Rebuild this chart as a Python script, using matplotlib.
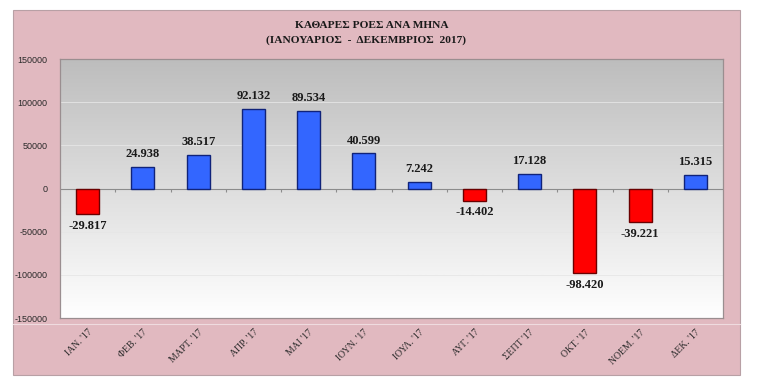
import numpy as np
import matplotlib
matplotlib.use("Agg")
import matplotlib.pyplot as plt
from matplotlib.patches import Rectangle
from matplotlib.lines import Line2D
from matplotlib.colors import LinearSegmentedColormap

months = ["ΙΑΝ. '17", "ΦΕΒ. '17", "ΜΑΡΤ. '17", "ΑΠΡ. '17", "ΜΑΙ '17", "ΙΟΥΝ. '17",
          "ΙΟΥΛ. '17", "ΑΥΓ. '17", "ΣΕΠΤ '17", "ΟΚΤ. '17", "ΝΟΕΜ. '17", "ΔΕΚ. '17"]
net_flows = [-29817, 24938, 38517, 92132, 89534, 40599, 7242, -14402, 17128, -98420, -39221, 15315]
y_ticks = [-150000, -100000, -50000, 0, 50000, 100000, 150000]
title_line1 = "ΚΑΘΑΡΕΣ ΡΟΕΣ ΑΝΑ ΜΗΝΑ"
title_line2 = "(ΙΑΝΟΥΑΡΙΟΣ  -  ΔΕΚΕΜΒΡΙΟΣ  2017)"

W, H = 768, 382
fig = plt.figure(figsize=(W / 100, H / 100), dpi=100)
fig.patch.set_facecolor("white")

pink = "#e1b9c0"
fig.add_artist(Rectangle((13 / W, 1 - 375 / H), (740 - 13) / W, (375 - 10) / H,
                         transform=fig.transFigure, facecolor=pink,
                         edgecolor="#b8a0a5", linewidth=0.8, zorder=0))
fig.add_artist(Line2D([13 / W, 740 / W], [1 - 324 / H, 1 - 324 / H],
                      transform=fig.transFigure, color="#efdbdf", linewidth=0.8, zorder=1))

ax = fig.add_axes([60 / W, 1 - 318 / H, (723 - 60) / W, (318 - 59) / H])
x = np.arange(len(months))
ax.set_xlim(-0.5, len(months) - 0.5)
ax.set_ylim(y_ticks[0], y_ticks[-1])

cmap = LinearSegmentedColormap.from_list("g", ["#ffffff", "#bdbdbd"])
ax.imshow(np.linspace(0, 1, 256).reshape(-1, 1), extent=[-0.5, len(months) - 0.5, y_ticks[0], y_ticks[-1]],
          aspect="auto", cmap=cmap, origin="lower", zorder=0)

for yt in y_ticks[1:-1]:
    if yt != 0:
        ax.axhline(yt, color="#e6e6e6", linewidth=0.6, zorder=1)
ax.axhline(0, color="#8c8c8c", linewidth=0.8, zorder=2)
ax.vlines(np.arange(0.5, len(months) - 0.5, 1), 0, -3500, color="#8c8c8c", linewidth=0.8, zorder=2)

colors = ["#3366ff" if v >= 0 else "#ff0000" for v in net_flows]
edges = ["#10237a" if v >= 0 else "#6a0000" for v in net_flows]
ax.bar(x, net_flows, width=0.42, color=colors, edgecolor=edges, linewidth=1.0, zorder=3)

for xi, v in zip(x, net_flows):
    lab = f"{v:,}".replace(",", ".")
    if v >= 0:
        ax.annotate(lab, (xi, v), xytext=(0, 5), textcoords="offset points", ha="center", va="bottom",
                    fontsize=9, fontweight="bold", family="Liberation Serif", color="#1a1a1a", zorder=4)
    else:
        ax.annotate(lab, (xi, v), xytext=(0, -4), textcoords="offset points", ha="center", va="top",
                    fontsize=9, fontweight="bold", family="Liberation Serif", color="#1a1a1a", zorder=4)

ax.set_yticks(y_ticks)
ax.set_yticklabels([str(t) for t in y_ticks], fontsize=6.5, family="Liberation Sans", color="#2a2a2a")
ax.tick_params(axis="y", length=0, pad=9)
ax.set_xticks(x)
ax.set_xticklabels(months, rotation=45, ha="right", rotation_mode="anchor",
                   fontsize=7, family="Liberation Serif", color="#2a2a2a")
ax.tick_params(axis="x", length=0, pad=7)

for s in ax.spines.values():
    s.set_color("#9a8e90")
    s.set_linewidth(0.9)

fig.text(372 / W, 1 - 26 / H, title_line1, ha="center", va="center", fontsize=8.2,
         fontweight="bold", family="Liberation Serif", color="#1a1a1a")
fig.text(366 / W, 1 - 40 / H, title_line2, ha="center", va="center", fontsize=8.2,
         fontweight="bold", family="Liberation Serif", color="#1a1a1a")

fig.savefig("out.png", dpi=100)
